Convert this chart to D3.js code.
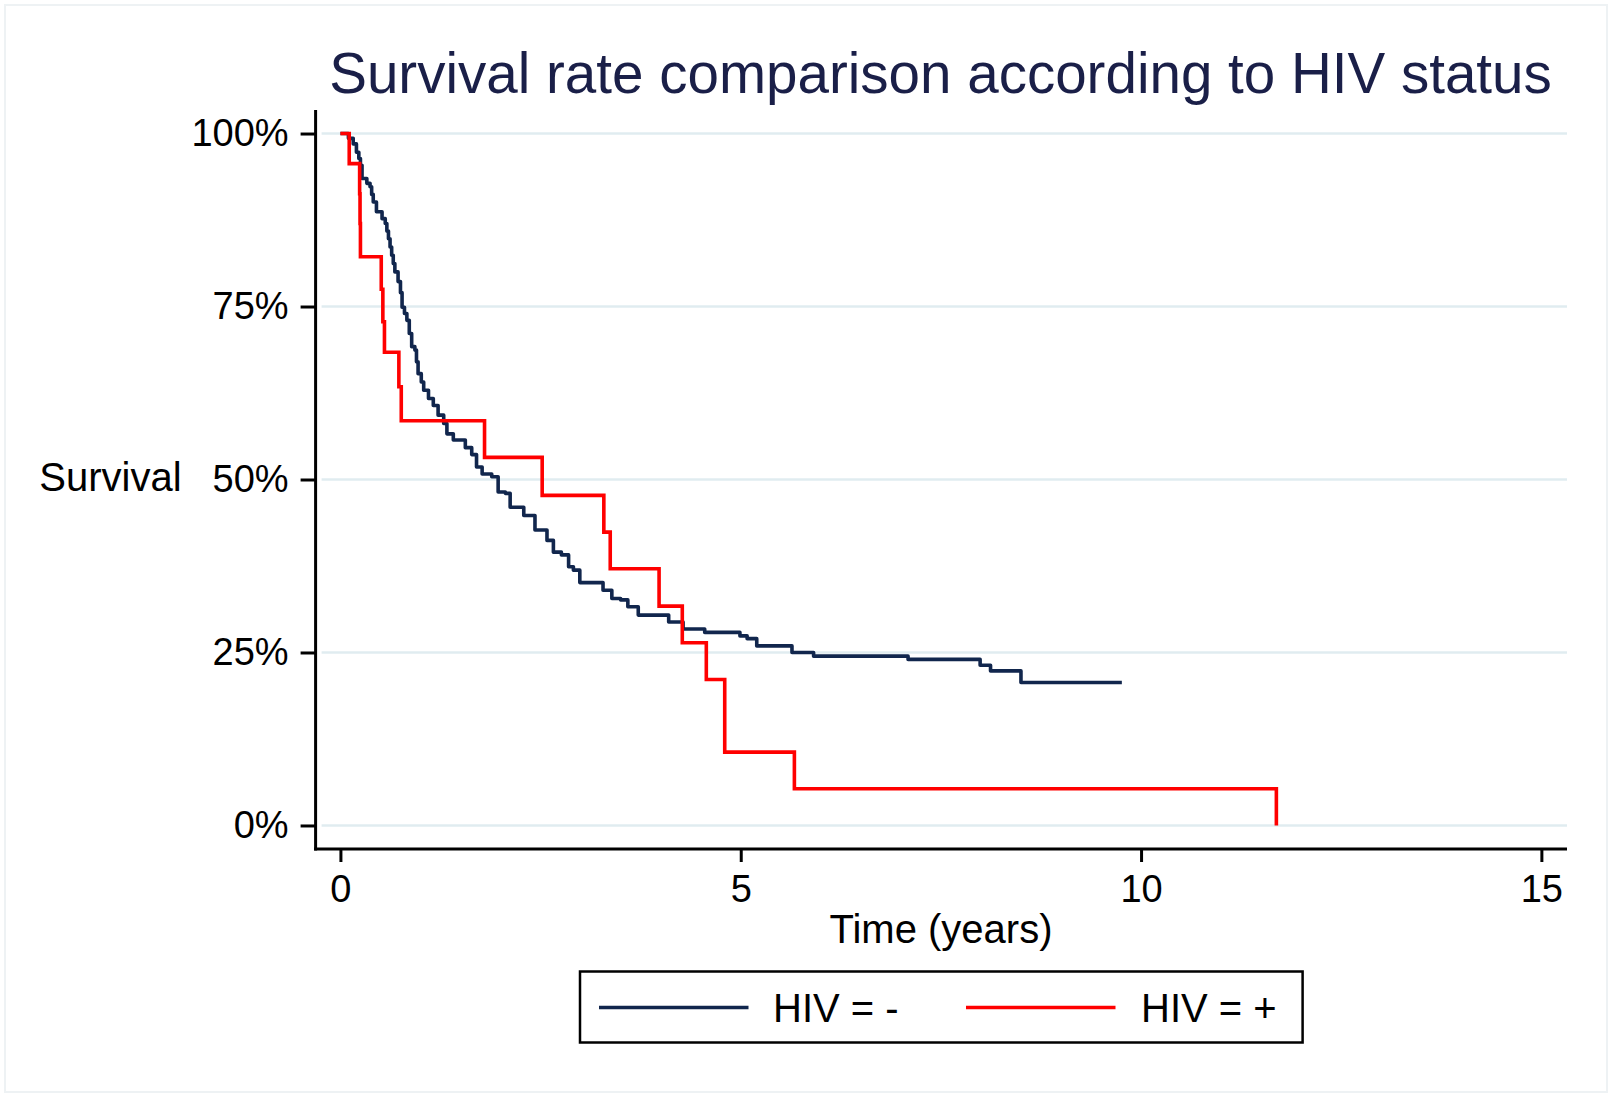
<!DOCTYPE html>
<html>
<head>
<meta charset="utf-8">
<script src="https://cdn.jsdelivr.net/npm/d3@7"></script>
<style>
  html, body { margin: 0; padding: 0; background: #fff; }
  svg { display: block; }
  text { font-family: "Liberation Sans", Arial, Helvetica, sans-serif; }
</style>
</head>
<body>
<svg id="chart" width="1612" height="1099"></svg>
<script>
// ---- data ----
const title = "Survival rate comparison according to HIV status";
const xLabel = "Time (years)";
const yLabel = "Survival";
const xTicks = [0, 5, 10, 15];
const yTicks = [0, 0.25, 0.5, 0.75, 1];
const yTickLabels = ["0%", "25%", "50%", "75%", "100%"];
const seriesNames = ["HIV = -", "HIV = +"];

// HIV = - (Kaplan-Meier steps: time in years, survival after step)
const negTime = [0, 0.10, 0.16, 0.20, 0.23, 0.25, 0.27, 0.33, 0.37, 0.39, 0.41, 0.45, 0.52, 0.56, 0.58,
  0.60, 0.62, 0.64, 0.66, 0.68, 0.72, 0.75, 0.77, 0.80, 0.83, 0.86, 0.89, 0.93, 0.95, 0.97, 1.01,
  1.04, 1.10, 1.16, 1.22, 1.29, 1.33, 1.41, 1.56, 1.64, 1.70, 1.77, 1.89, 1.97, 2.06,
  2.12, 2.29, 2.43, 2.58, 2.66, 2.76, 2.85, 2.91, 2.99, 3.28, 3.39, 3.50, 3.59, 3.72, 4.10, 4.28,
  4.55, 4.99, 5.08, 5.20, 5.64, 5.91, 7.09, 7.99, 8.12, 8.50, 9.76];
const negSurv = [1, 0.993, 0.985, 0.973, 0.964, 0.954, 0.935, 0.928, 0.923, 0.912, 0.901, 0.887, 0.877, 0.870, 0.859,
  0.848, 0.836, 0.824, 0.812, 0.800, 0.786, 0.770, 0.749, 0.740, 0.730, 0.711, 0.692, 0.687, 0.670, 0.653, 0.641,
  0.629, 0.617, 0.607, 0.593, 0.581, 0.566, 0.557, 0.546, 0.536, 0.518, 0.508, 0.504, 0.482, 0.480,
  0.460, 0.448, 0.427, 0.412, 0.395, 0.391, 0.374, 0.369, 0.351, 0.340, 0.328, 0.326, 0.316, 0.304, 0.294, 0.284,
  0.279, 0.274, 0.270, 0.2595, 0.250, 0.2447, 0.240, 0.2316, 0.2234, 0.2066, 0.2066];

// HIV = +
const posTime = [0, 0.11, 0.24, 0.245, 0.25, 0.51, 0.53, 0.55, 0.73, 0.76, 1.80, 2.52, 3.29, 3.37, 3.98, 4.27, 4.57, 4.80, 5.67, 11.69];
const posSurv = [1, 0.9565, 0.913, 0.870, 0.822, 0.775, 0.728, 0.684, 0.634, 0.585, 0.532, 0.477, 0.424, 0.371, 0.317, 0.264, 0.211, 0.106, 0.053, 0];

// ---- layout ----
const svg = d3.select("#chart");
const W = 1612, H = 1099;
const axisLeftX = 315.6, axisBottomY = 849;
const plotRight = 1567, plotTop = 110;

const x = d3.scaleLinear().domain([-0.31, 15.32]).range([axisLeftX, plotRight]);
const y = d3.scaleLinear().domain([-0.034, 1.034]).range([axisBottomY, plotTop]);

const navy = "#11264d", red = "#ff0000", gridCol = "#e0ecf0";

// outer frame
svg.append("rect").attr("x", 5).attr("y", 5).attr("width", W - 10).attr("height", H - 12)
  .attr("fill", "#fff").attr("stroke", "#eef2f4").attr("stroke-width", 2);

// gridlines
svg.append("g").selectAll("line").data(yTicks).join("line")
  .attr("x1", axisLeftX + 6).attr("x2", plotRight)
  .attr("y1", d => y(d)).attr("y2", d => y(d))
  .attr("stroke", gridCol).attr("stroke-width", 2.5);

// axes
const yAxis = d3.axisLeft(y).tickValues(yTicks).tickFormat((d, i) => yTickLabels[i])
  .tickSize(15).tickPadding(12);
const gy = svg.append("g").attr("transform", `translate(${axisLeftX},0)`).call(yAxis);
gy.select(".domain").remove();
gy.append("line").attr("x1", 0).attr("x2", 0).attr("y1", plotTop).attr("y2", axisBottomY + 1.5)
  .attr("stroke", "#000").attr("stroke-width", 3);
gy.selectAll(".tick line").attr("stroke", "#000").attr("stroke-width", 3);
gy.selectAll(".tick text").attr("font-size", 38).attr("fill", "#000")
  .attr("font-family", "'Liberation Sans', Arial, sans-serif");

const xAxis = d3.axisBottom(x).tickValues(xTicks).tickFormat(d3.format("d"))
  .tickSize(13).tickPadding(13);
const gx = svg.append("g").attr("transform", `translate(0,${axisBottomY})`).call(xAxis);
gx.select(".domain").remove();
gx.append("line").attr("x1", axisLeftX - 1.5).attr("x2", plotRight).attr("y1", 0).attr("y2", 0)
  .attr("stroke", "#000").attr("stroke-width", 3);
gx.selectAll(".tick line").attr("stroke", "#000").attr("stroke-width", 3);
gx.selectAll(".tick text").attr("font-size", 38).attr("fill", "#000")
  .attr("font-family", "'Liberation Sans', Arial, sans-serif");

// curves
const line = d3.line().x(d => x(d[0])).y(d => y(d[1])).curve(d3.curveStepAfter);
const negData = negTime.map((t, i) => [t, negSurv[i]]);
const posData = posTime.map((t, i) => [t, posSurv[i]]);

svg.append("path").datum(negData).attr("d", line)
  .attr("fill", "none").attr("stroke", navy).attr("stroke-width", 3.6).attr("stroke-linejoin", "round");
svg.append("path").datum(posData).attr("d", line)
  .attr("fill", "none").attr("stroke", red).attr("stroke-width", 3.6).attr("stroke-linejoin", "miter");

// title (fit to measured width)
const tt = svg.append("text").text(title).attr("x", 940.5).attr("y", 92.5)
  .attr("text-anchor", "middle").attr("fill", "#1a1f48").attr("font-size", 52);
const tw = tt.node().getComputedTextLength();
tt.attr("font-size", 52 * 1223 / tw);

// axis titles
svg.append("text").text(yLabel).attr("x", 110.5).attr("y", 491)
  .attr("text-anchor", "middle").attr("font-size", 40).attr("fill", "#000");
svg.append("text").text(xLabel).attr("x", 941).attr("y", 943)
  .attr("text-anchor", "middle").attr("font-size", 40).attr("fill", "#000");

// legend
const lg = svg.append("g");
lg.append("rect").attr("x", 580).attr("y", 971.5).attr("width", 722.6).attr("height", 71)
  .attr("fill", "#fff").attr("stroke", "#000").attr("stroke-width", 2.5);
const legendItems = [
  { name: seriesNames[0], color: navy, x1: 599, x2: 748.5, tx: 773 },
  { name: seriesNames[1], color: red, x1: 966, x2: 1115.5, tx: 1141 }
];
legendItems.forEach(it => {
  lg.append("line").attr("x1", it.x1).attr("x2", it.x2).attr("y1", 1007.5).attr("y2", 1007.5)
    .attr("stroke", it.color).attr("stroke-width", 3.6);
  lg.append("text").text(it.name).attr("x", it.tx).attr("y", 1022)
    .attr("font-size", 40).attr("fill", "#000");
});
</script>
</body>
</html>
